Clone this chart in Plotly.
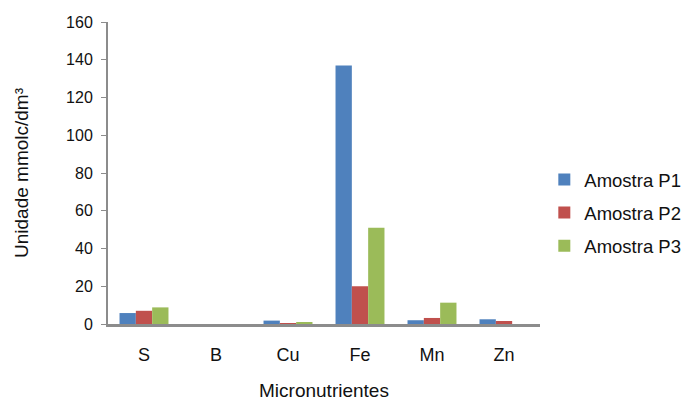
import plotly.graph_objects as go

categories = ["S", "B", "Cu", "Fe", "Mn", "Zn"]
p1 = [5.8, 0, 1.8, 137, 2.0, 2.5]
p2 = [7.0, 0, 0.5, 20, 3.2, 1.6]
p3 = [8.8, 0, 1.0, 51, 11.3, 0]
series_names = ["Amostra P1", "Amostra P2", "Amostra P3"]
colors = ["#4F81BD", "#C0504D", "#9BBB59"]
y_ticks = [0, 20, 40, 60, 80, 100, 120, 140, 160]

fig = go.Figure()
for i, (name, vals, c) in enumerate(zip(series_names, [p1, p2, p3], colors)):
    fig.add_trace(go.Bar(x=categories, y=vals, name=name, legendgroup=f"g{i}",
                         marker=dict(color=c, line=dict(width=0))))

font = "Liberation Sans, Arial, Helvetica, sans-serif"
fig.update_layout(
    width=690, height=401,
    margin=dict(l=100, r=158, t=14, b=85, autoexpand=False),
    plot_bgcolor="white", paper_bgcolor="white",
    barmode="group", bargap=0.32, bargroupgap=0,
    font=dict(family=font, size=18, color="#111"),
    showlegend=True,
    legend=dict(x=1.01, y=0.3675, xanchor="left", yanchor="middle",
                font=dict(size=18.5, color="#111"), itemwidth=30,
                tracegroupgap=6, bgcolor="rgba(0,0,0,0)"),
    xaxis=dict(
        automargin=False,
        showline=True, linecolor="#8c8c8c", linewidth=2.5,
        ticks="", tickfont=dict(size=18), ticklabelstandoff=13,
        title=dict(text="Micronutrientes", font=dict(size=19), standoff=20),
    ),
    yaxis=dict(
        automargin=False,
        range=[0, 160], tickvals=y_ticks,
        showline=True, linecolor="#8c8c8c", linewidth=2,
        ticks="outside", ticklen=5, tickcolor="#8c8c8c", tickwidth=1,
        showgrid=False, zeroline=False,
        tickfont=dict(size=16), ticklabelstandoff=5,
        title=dict(text="Unidade mmolc/dm³", font=dict(size=19), standoff=32),
    ),
)

fig.write_html("out.html")
